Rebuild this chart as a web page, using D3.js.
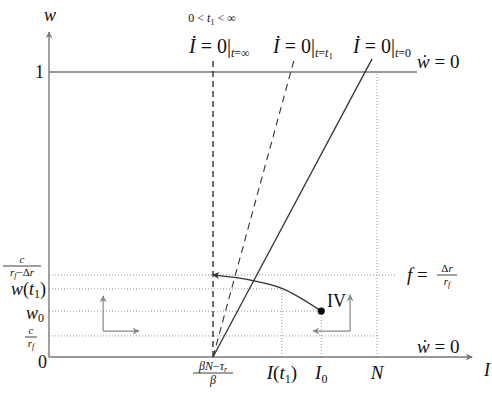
<!DOCTYPE html>
<html>
<head>
<meta charset="utf-8">
<script src="https://cdn.jsdelivr.net/npm/d3@7"></script>
<style>
  body { margin: 0; background: #fff; }
  text { font-family: 'Liberation Serif', 'DejaVu Serif', serif; fill: #111; }
</style>
</head>
<body>
<svg id="chart" width="492" height="395"></svg>
<script>
// --- values (I on x, w on y) ---
const iStar = 5          // (βN - τr) / β
const iT1 = 7.1          // I(t1)
const i0 = 8.3           // I0
const nVal = 10          // N
const axisEnd = [12.9, 1.14]
const topLineEnd = 11.22

// dotted guides: level of w, and how far in I each one runs
const guideW = [0.288, 0.239, 0.161, 0.074]
const guideEnd = [10.6, iT1, i0, nVal]
// vertical dotted guides: I position and top w
const vGuideI = [iT1, i0, nVal]
const vGuideTop = [0.239, 0.161, 1]

// nullclines  I' = 0 at t = inf, t = t1, t = 0
const nullInf = [[iStar, 0], [iStar, 1.05]]
const nullT1 = [[iStar, 0], [7.47, 1.042]]
const nullT0 = [[iStar, 0], [9.85, 1.046]]

// trajectory, listed from the arrow tip (t=inf nullcline) back to (I0, w0)
const traj = [[iStar, 0.288], [6.22, 0.268], [iT1, 0.241], [i0, 0.161]]

// direction arrows: origin, up-to w, sideways-to I
const dirLeft = [1.65, 0.091, 0.214, 2.74]
const dirIV = [9.18, 0.091, 0.218, 8.05]

const svg = d3.select('#chart')
const x = d3.scaleLinear().domain([0, 10]).range([49, 377])
const y = d3.scaleLinear().domain([0, 1]).range([357, 72])
const line = d3.line().x((d) => x(d[0])).y((d) => y(d[1]))

const defs = svg.append('defs')
const marker = (id, color, w, h) => {
  defs.append('marker')
    .attr('id', id)
    .attr('viewBox', '0 0 10 10')
    .attr('refX', 9).attr('refY', 5)
    .attr('markerUnits', 'userSpaceOnUse')
    .attr('markerWidth', w).attr('markerHeight', h)
    .attr('orient', 'auto-start-reverse')
    .append('path')
    .attr('d', 'M0,0 L10,5 L0,10 L3,5 Z')
    .attr('fill', color)
}
marker('axArrow', '#777', 9, 7)
marker('grArrow', '#888', 9, 7)
marker('trArrow', '#333', 9, 7)

// dotted guides
svg.selectAll('.hguide')
  .data(guideW)
  .enter().append('path')
  .attr('class', 'hguide')
  .attr('d', (d, i) => line([[0, d], [guideEnd[i], d]]))
  .attr('stroke', '#999').attr('stroke-width', 1)
  .attr('stroke-dasharray', '1,2').attr('fill', 'none')

svg.selectAll('.vguide')
  .data(vGuideI)
  .enter().append('path')
  .attr('class', 'vguide')
  .attr('d', (d, i) => line([[d, 0], [d, vGuideTop[i]]]))
  .attr('stroke', '#999').attr('stroke-width', 1)
  .attr('stroke-dasharray', '1,2').attr('fill', 'none')

// axes
svg.append('path')
  .attr('d', line([[0, 0], [0, axisEnd[1]]]))
  .attr('stroke', '#777').attr('stroke-width', 1.4)
  .attr('marker-end', 'url(#axArrow)')
svg.append('path')
  .attr('d', line([[0, 0], [axisEnd[0], 0]]))
  .attr('stroke', '#777').attr('stroke-width', 1.4)
  .attr('marker-end', 'url(#axArrow)')
svg.append('path')
  .attr('d', line([[0, 1], [topLineEnd, 1]]))
  .attr('stroke', '#777').attr('stroke-width', 1.4)

// nullclines
svg.append('path').attr('d', line(nullInf))
  .attr('stroke', '#222').attr('stroke-width', 1.3)
  .attr('stroke-dasharray', '6,4').attr('fill', 'none')
svg.append('path').attr('d', line(nullT1))
  .attr('stroke', '#333').attr('stroke-width', 1.1)
  .attr('stroke-dasharray', '7,5').attr('fill', 'none')
svg.append('path').attr('d', line(nullT0))
  .attr('stroke', '#333').attr('stroke-width', 1.3).attr('fill', 'none')

// trajectory
const curve = d3.line().x((d) => x(d[0])).y((d) => y(d[1])).curve(d3.curveMonotoneX)
svg.append('path').attr('d', curve(traj))
  .attr('stroke', '#333').attr('stroke-width', 1.4).attr('fill', 'none')
  .attr('marker-start', 'url(#trArrow)')
svg.append('circle')
  .attr('cx', x(i0)).attr('cy', y(traj[traj.length - 1][1]))
  .attr('r', 3.6).attr('fill', '#000')

// direction arrows
const dirArrows = (d) => {
  svg.append('path').attr('d', line([[d[0], d[1]], [d[0], d[2]]]))
    .attr('stroke', '#888').attr('stroke-width', 1.2)
    .attr('marker-end', 'url(#grArrow)')
  svg.append('path').attr('d', line([[d[0], d[1]], [d[3], d[1]]]))
    .attr('stroke', '#888').attr('stroke-width', 1.2)
    .attr('marker-end', 'url(#grArrow)')
}
dirArrows(dirLeft)
dirArrows(dirIV)

// --- text helpers ---
const label = (px, py, parts, size, anchor) => {
  const t = svg.append('text')
    .attr('x', px).attr('y', py)
    .attr('font-size', size)
    .attr('text-anchor', anchor || 'start')
  parts.forEach((p) => {
    const ts = t.append('tspan').text(p.t)
    if (p.i) ts.attr('font-style', 'italic')
    if (p.s) ts.attr('font-size', p.s)
    if (p.dy) ts.attr('dy', p.dy)
    if (p.dx) ts.attr('dx', p.dx)
  })
  return t
}
const frac = (cx, cy, num, den, size, w) => {
  label(cx, cy - 3, num, size, 'middle')
  svg.append('line')
    .attr('x1', cx - w / 2).attr('x2', cx + w / 2)
    .attr('y1', cy).attr('y2', cy)
    .attr('stroke', '#111').attr('stroke-width', 0.8)
  label(cx, cy + size - 1, den, size, 'middle')
}

// axis names and ticks
label(50, 21, [{t: 'w', i: true}], 18, 'middle')
label(487, 376, [{t: 'I', i: true}], 18, 'middle')
label(44, 78, [{t: '1'}], 18, 'end')
label(47, 368, [{t: '0'}], 18, 'end')

// top labels
label(212, 22, [{t: '0 < '}, {t: 't', i: true}, {t: '1', s: 8, dy: 3}, {t: ' < ∞', dy: -3}], 12, 'middle')
const nullLabel = (px, sub) => label(px, 53, [
  {t: 'İ', i: true}, {t: ' = 0|'},
  {t: 't', i: true, s: 12, dy: 4}].concat(sub), 20, 'start')
nullLabel(189, [{t: '=∞', s: 12}])
nullLabel(273, [{t: '=', s: 12}, {t: 't', i: true, s: 12}, {t: '1', s: 9, dy: 2}])
nullLabel(353, [{t: '=0', s: 12}])
label(417, 68, [{t: 'ẇ', i: true}, {t: ' = 0'}], 19, 'start')
label(417, 353, [{t: 'ẇ', i: true}, {t: ' = 0'}], 19, 'start')

// left labels
frac(22, 266, [{t: 'c', i: true}], [{t: 'r', i: true}, {t: 'f', i: true, s: 8, dy: 2}, {t: '−Δ', dy: -2}, {t: 'r', i: true}], 11, 38)
label(46, 295, [{t: 'w', i: true}, {t: '('}, {t: 't', i: true}, {t: '1', s: 12, dy: 3}, {t: ')', dy: -3}], 18, 'end')
label(44, 319, [{t: 'w', i: true}, {t: '0', s: 12, dy: 3}], 18, 'end')
frac(31, 337, [{t: 'c', i: true}], [{t: 'r', i: true}, {t: 'f', i: true, s: 8, dy: 2}], 11, 12)

// bottom labels
frac(x(iStar), 373, [{t: 'βN', i: true}, {t: '−'}, {t: 'τ', i: true}, {t: 'r', i: true, s: 8, dy: 2}], [{t: 'β', i: true}], 12, 40)
label(x(iT1), 379, [{t: 'I', i: true}, {t: '('}, {t: 't', i: true}, {t: '1', s: 12, dy: 4}, {t: ')', dy: -4}], 19, 'middle')
label(x(i0), 379, [{t: 'I', i: true}, {t: '0', s: 12, dy: 4}], 19, 'middle')
label(x(nVal), 379, [{t: 'N', i: true}], 19, 'middle')

// right labels
label(407, 281, [{t: 'f', i: true}, {t: ' ='}], 19, 'start')
frac(447, 275, [{t: 'Δ'}, {t: 'r', i: true}], [{t: 'r', i: true}, {t: 'f', i: true, s: 8, dy: 2}], 11, 20)
label(327, 307, [{t: 'IV'}], 18, 'start')
</script>
</body>
</html>
